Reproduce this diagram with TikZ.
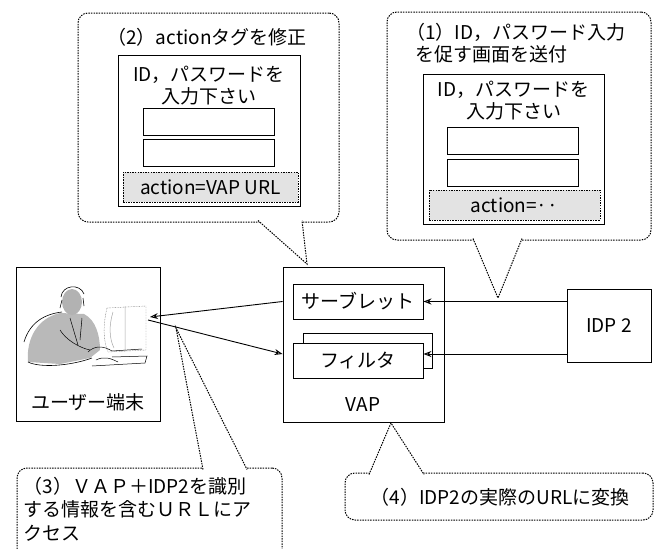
\documentclass[tikz,border=0pt]{standalone}
\usepackage{fontspec}
\setmainfont{Noto Sans CJK JP}
\usetikzlibrary{arrows.meta}

\begin{document}
\begin{tikzpicture}[x=1pt,y=-1pt,font=\fontsize{19}{22}\selectfont,
  box/.style={draw,line width=0.9pt,inner sep=0pt},
  field/.style={draw,line width=0.8pt,minimum width=131,minimum height=27,inner sep=0pt},
  note/.style={draw,line width=1pt,dash pattern=on 1.5pt off 1.1pt,rounded corners=10pt,inner sep=0pt},
  tail/.style={line width=1pt,dash pattern=on 1.5pt off 1.1pt,fill=white},
  actbox/.style={draw,fill=gray!22,line width=0.9pt,dash pattern=on 1.5pt off 1.1pt,inner sep=0pt},
  arr/.style={line width=0.9pt,-{Stealth[open,length=8pt,width=6pt]}}]
\useasboundingbox (0,0) rectangle (662,549);
\clip (0,0) rectangle (662,549);

\node[note,minimum width=261,minimum height=209] (modnote) at (208.5,117.5) {};
\coordinate (modtip) at (307,264);
\filldraw[tail] (258,220.5) -- (modtip) -- (302,220.5);
\node (modtitle) at (207,37) {（2）actionタグを修正};
\node[box,minimum width=182,minimum height=151] (modform) at (209,130.5) {};
\node[align=center] (modask) at (209,86) {ID，パスワードを\\入力下さい};
\node[field] (modid) at (209,121.5) {};
\node[field] (modpw) at (209,152.5) {};
\node[actbox,minimum width=175,minimum height=30] (modact) at (210.5,187) {action=VAP URL};

\node[note,minimum width=264,minimum height=228] (sendnote) at (519,126) {};
\coordinate (sendtip) at (498,298);
\filldraw[tail] (473,238.5) -- (sendtip) -- (522,238.5);
\node[align=left] (sendtitle) at (516,43.5) {（1）ID，パスワード入力\\\hspace*{0.5em}を促す画面を送付};
\node[box,minimum width=181,minimum height=150] (sendform) at (513.5,149) {};
\node[align=center] (sendask) at (513.5,101) {ID，パスワードを\\入力下さい};
\node[field] (sendid) at (513,140.5) {};
\node[field] (sendpw) at (513,172.5) {};
\node[actbox,minimum width=171,minimum height=30] (sendact) at (514.5,205) {action=··};

\node[note,minimum width=265,minimum height=110] (accnote) at (149.5,523) {};
\coordinate (acctip) at (176,328);
\filldraw[tail] (203,469.5) -- (acctip) -- (247,469.5);
\node[align=left,anchor=west,font=\fontsize{19}{23.5}\selectfont] (acctext) at (20,509) {（3）ＶＡＰ＋IDP2を識別\\する情報を含むＵＲＬにア\\クセス};

\node[note,minimum width=308,minimum height=47] (convnote) at (499,496.5) {};
\coordinate (convtip) at (391,423);
\filldraw[tail] (369,474.5) -- (convtip) -- (424,474.5);
\node (convtext) at (500,497) {（4）IDP2の実際のURLに変換};

\node[box,minimum width=144,minimum height=154] (term) at (88,344) {};
\node (termlbl) at (88,402) {ユーザー端末};

% operator at the desk
\fill[gray!55] (28,362) .. controls (26,338) and (38,318) .. (60,313) -- (84,314) .. controls (96,320) and (100,336) .. (100,350) -- (90,358) -- (60,364) -- cycle;
\draw[line width=0.6pt] (24,342) .. controls (30,322) and (45,314) .. (62,312);
\draw[line width=0.6pt] (28,362) .. controls (40,368) and (70,366) .. (92,358);
\draw[line width=0.5pt] (70,318) -- (78,345) (82,318) -- (80,340) (60,330) .. controls (66,340) and (80,348) .. (90,350);
\fill[gray!60] (72,302) ellipse (10 and 13);
\draw[line width=0.6pt] (61,297) .. controls (62,285) and (80,283) .. (84,294);
\draw[line width=0.6pt] (62,300) -- (60,308) (83,298) -- (84,306);
\draw[gray,dash pattern=on 0.8pt off 0.8pt] (107,308) .. controls (103,325) and (103,340) .. (108,352) -- (146,350) -- (146,306) -- cycle;
\draw[gray!70,line width=0.5pt] (113,312) .. controls (109,325) and (109,338) .. (114,348) (125,306) -- (125,350);
\draw[line width=0.5pt] (88,352) .. controls (95,345) and (104,346) .. (112,351) -- (142,349);
\draw[line width=0.5pt] (92,366) -- (145,363) -- (147,356) -- (112,357);
\draw[line width=0.5pt] (96,360) .. controls (104,356) and (110,358) .. (118,362);

\node[box,minimum width=161,minimum height=155] (vap) at (363.5,344.5) {};
\node (vaplbl) at (363,405) {VAP};
\node[box,minimum width=130,minimum height=35] (servlet) at (358,301.5) {サーブレット};
\node[box,minimum width=129,minimum height=35] (filterbk) at (367.5,350.5) {};
\node[box,fill=white,minimum width=130,minimum height=35] (filter) at (358,360.5) {フィルタ};

\node[box,minimum width=84,minimum height=73] (idp) at (609,325.5) {IDP 2};

\coordinate (filterin) at ([yshift=6.5pt]filter.east);
\coordinate (termin) at (150,317);
\coordinate (termout) at (148,320);
\draw[arr] (idp.west |- servlet.east) -- (servlet.east);
\draw[arr] (idp.west |- filterin) -- (filterin);
\draw[arr] (vap.west |- servlet.west) -- (termin);
\draw[arr] (termout) -- (vap.west |- filterin);
\end{tikzpicture}
\end{document}
